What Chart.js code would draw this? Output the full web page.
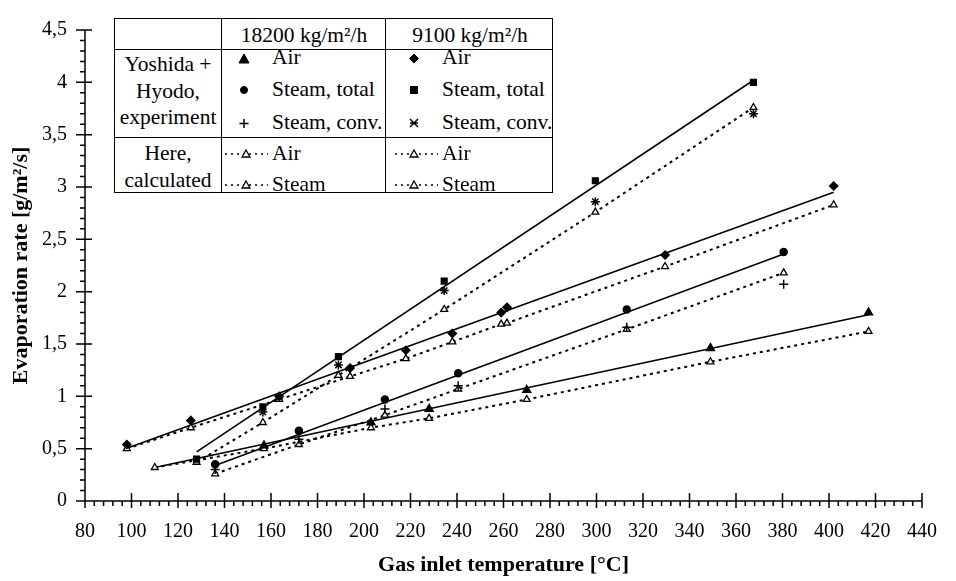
<!DOCTYPE html>
<html>
<head>
<meta charset="utf-8">
<script src="https://cdn.jsdelivr.net/npm/chart.js@4.4.1/dist/chart.umd.min.js"></script>
<style>
html, body { margin: 0; padding: 0; background: #fff; }
#wrap { position: relative; width: 956px; height: 581px; }
#legendBox { position: absolute; left: 114px; top: 18px; width: 439px; height: 175px; border: 1.5px solid #000; box-sizing: border-box; background: #fff;
  font-family: "Liberation Serif", "Times New Roman", serif; font-size: 21.5px; color: #000; }
.vl { position: absolute; top: 0; bottom: 0; width: 0; border-left: 1.5px solid #000; }
.hl { position: absolute; left: 0; right: 0; height: 0; border-top: 1.5px solid #000; }
.t { position: absolute; white-space: nowrap; line-height: 1; transform: translateY(-50%); }
.c { transform: translate(-50%, -50%); }
#legendBox svg { position: absolute; left: 0; top: 0; }
</style>
</head>
<body>
<div id="wrap">
  <canvas id="chart" width="956" height="581"></canvas>
  <div id="legendBox">
    <div class="vl" style="left:106px"></div>
    <div class="vl" style="left:270px"></div>
    <div class="hl" style="top:30px"></div>
    <div class="hl" style="top:118px"></div>

    <div class="t c" style="left:189px;top:17px">18200 kg/m²/h</div>
    <div class="t c" style="left:355px;top:17px">9100 kg/m²/h</div>

    <div class="t c" style="left:53px;top:46px">Yoshida +</div>
    <div class="t c" style="left:53px;top:73px">Hyodo,</div>
    <div class="t c" style="left:53px;top:99px">experiment</div>
    <div class="t c" style="left:53px;top:135px">Here,</div>
    <div class="t c" style="left:53px;top:162px">calculated</div>

    <div class="t" style="left:157px;top:39px">Air</div>
    <div class="t" style="left:157px;top:71px">Steam, total</div>
    <div class="t" style="left:157px;top:104px">Steam, conv.</div>
    <div class="t" style="left:157px;top:135px">Air</div>
    <div class="t" style="left:157px;top:166px">Steam</div>

    <div class="t" style="left:327px;top:39px">Air</div>
    <div class="t" style="left:327px;top:71px">Steam, total</div>
    <div class="t" style="left:327px;top:104px">Steam, conv.</div>
    <div class="t" style="left:327px;top:135px">Air</div>
    <div class="t" style="left:327px;top:166px">Steam</div>

    <svg width="439" height="175" viewBox="0 0 439 175">
      <g fill="#000" stroke="#000">
        <polygon points="129,35 124,44 134,44" />
        <circle cx="129" cy="71" r="3.5" />
        <path d="M129 100 V109 M124.5 104.5 H133.5" fill="none" stroke-width="1.5" />
        <polygon points="299,35 303.5,39.5 299,44 294.5,39.5" />
        <rect x="295.5" y="67.5" width="7" height="7" />
        <path d="M295 100 L303 108 M303 100 L295 108 M295 104 H303" fill="none" stroke-width="1.5" />
      </g>
      <g fill="none" stroke="#000" stroke-width="1.5" stroke-dasharray="2,4">
        <line x1="110" y1="135" x2="153" y2="135" />
        <line x1="110" y1="166" x2="153" y2="166" />
        <line x1="280" y1="135" x2="323" y2="135" />
        <line x1="280" y1="166" x2="323" y2="166" />
      </g>
      <g fill="#fff" stroke="#000" stroke-width="1.3">
        <polygon points="131,131 127,138 135,138" />
        <polygon points="131,162 127,169 135,169" />
        <polygon points="299,131 295,138 303,138" />
        <polygon points="299,162 295,169 303,169" />
      </g>
    </svg>
  </div>
</div>
<script>
// measured points, 18200 kg/m2/h
var air18X = [157, 203, 228, 270, 349, 417];
var air18Y = [0.53, 0.75, 0.88, 1.06, 1.46, 1.80];
var steam18X = [136, 172, 209, 240.5, 313, 380.5];
var steamTot18Y = [0.35, 0.67, 0.97, 1.22, 1.83, 2.38];
var steamConv18Y = [0.30, 0.59, 0.88, 1.10, 1.66, 2.07];

// measured points, 9100 kg/m2/h
var air91X = [98, 125.5, 163.5, 194, 218, 238, 259, 261.5, 329.5, 402];
var air91Y = [0.54, 0.77, 1.00, 1.27, 1.44, 1.60, 1.80, 1.85, 2.35, 3.01];
var steam91X = [128, 156.5, 189, 234.5, 299.5, 367.5];
var steamTot91Y = [0.40, 0.90, 1.38, 2.10, 3.06, 4.00];
var steamConv91X = [156.5, 189, 234.5, 299.5, 367.5];
var steamConv91Y = [0.85, 1.30, 2.01, 2.86, 3.70];

// calculated
var airCalc18X = [110, 157, 203, 228, 270, 349, 417];
var airCalc18Y = [0.32, 0.50, 0.70, 0.79, 0.97, 1.33, 1.62];
var steamCalc18Y = [0.26, 0.54, 0.82, 1.07, 1.64, 2.18];
var airCalc91Y = [0.50, 0.70, 0.97, 1.19, 1.36, 1.52, 1.69, 1.70, 2.24, 2.83];
var steamCalc91Y = [0.37, 0.75, 1.20, 1.83, 2.76, 3.76];

// solid trend lines (end points)
var fitAir91X = [98, 402], fitAir91Y = [0.505, 2.95];
var fitSteam91X = [128, 367.5], fitSteam91Y = [0.47, 4.02];
var fitAir18X = [110, 417], fitAir18Y = [0.32, 1.78];
var fitSteam18X = [136, 380.5], fitSteam18Y = [0.34, 2.36];

var xTicks = [80, 440, 20];
var yTicks = [0, 4.5, 0.5];

function pts(xs, ys) {
    return xs.map(function(v, i) { return {x: v, y: ys[i]}; });
}

function marker(xs, ys, style, r, fill) {
    return {
        data: pts(xs, ys), showLine: false,
        pointStyle: style, pointRadius: r, pointHoverRadius: r,
        pointBackgroundColor: fill || '#000', pointBorderColor: '#000', pointBorderWidth: 1.5
    };
}

function calcLine(xs, ys) {
    return {
        data: pts(xs, ys), showLine: true,
        borderColor: '#000', borderWidth: 2, borderDash: [3, 4],
        pointStyle: 'triangle', pointRadius: 4, pointHoverRadius: 4,
        pointBackgroundColor: '#fff', pointBorderColor: '#000', pointBorderWidth: 1.3
    };
}

function fitLine(xs, ys) {
    return {
        data: pts(xs, ys), showLine: true,
        borderColor: '#000', borderWidth: 1.6, pointRadius: 0
    };
}

var datasets = [
    marker(air18X, air18Y, 'triangle', 4.5),
    marker(steam18X, steamTot18Y, 'circle', 3.5),
    marker(steam18X, steamConv18Y, 'cross', 4.5),
    marker(air91X, air91Y, 'rectRot', 4),
    marker(steam91X, steamTot91Y, 'rect', 4),
    marker(steamConv91X, steamConv91Y, 'star', 4.5),
    calcLine(airCalc18X, airCalc18Y),
    calcLine(steam18X, steamCalc18Y),
    calcLine(air91X, airCalc91Y),
    calcLine(steam91X, steamCalc91Y),
    fitLine(fitAir91X, fitAir91Y),
    fitLine(fitSteam91X, fitSteam91Y),
    fitLine(fitAir18X, fitAir18Y),
    fitLine(fitSteam18X, fitSteam18Y)
];

// axis lines with major and minor ticks
var axisTicks = {
    id: 'axisTicks',
    afterDraw: function(chart) {
        var ctx = chart.ctx, a = chart.chartArea, x = chart.scales.x, y = chart.scales.y;
        ctx.save();
        ctx.strokeStyle = '#000';
        ctx.lineWidth = 1.5;
        ctx.beginPath();
        ctx.moveTo(a.left, a.top);
        ctx.lineTo(a.left, a.bottom);
        ctx.lineTo(a.right, a.bottom);
        for (var i = 0; i <= 45; i++) {
            var py = y.getPixelForValue(i / 10);
            if (i % 5 === 0) { ctx.moveTo(a.left - 9, py); ctx.lineTo(a.left + 7, py); }
            else { ctx.moveTo(a.left - 5, py); ctx.lineTo(a.left, py); }
        }
        for (var j = 0; j <= 90; j++) {
            var px = x.getPixelForValue(80 + j * 4);
            if (j % 5 === 0) { ctx.moveTo(px, a.bottom - 8); ctx.lineTo(px, a.bottom + 7); }
            else { ctx.moveTo(px, a.bottom); ctx.lineTo(px, a.bottom + 5); }
        }
        ctx.stroke();
        ctx.restore();
    }
};

var serif = '"Liberation Serif", "Times New Roman", serif';

new Chart(document.getElementById('chart'), {
    type: 'scatter',
    data: {datasets: datasets},
    options: {
        responsive: false,
        animation: false,
        layout: {padding: {top: 19, right: 19, left: 0, bottom: 0}},
        plugins: {legend: {display: false}, tooltip: {enabled: false}},
        scales: {
            x: {
                type: 'linear', min: xTicks[0], max: xTicks[1],
                ticks: {stepSize: xTicks[2], padding: 19, color: '#000', maxRotation: 0, autoSkip: false,
                    font: {family: serif, size: 20}},
                grid: {display: false, drawTicks: false},
                border: {display: false},
                title: {display: true, text: 'Gas inlet temperature [°C]', color: '#000',
                    font: {family: serif, size: 22, weight: 'bold'}, padding: {top: 0, bottom: 2}},
                afterFit: function(s) { s.height = 80; }
            },
            y: {
                type: 'linear', min: yTicks[0], max: yTicks[1],
                ticks: {stepSize: yTicks[2], padding: 18, color: '#000',
                    font: {family: serif, size: 20},
                    callback: function(v) { return String(v).replace('.', ','); }},
                grid: {display: false, drawTicks: false},
                border: {display: false},
                title: {display: true, text: 'Evaporation rate [g/m²/s]', color: '#000',
                    font: {family: serif, size: 22, weight: 'bold'}, padding: {top: 8, bottom: 0}},
                afterFit: function(s) { s.width = 85; }
            }
        }
    },
    plugins: [axisTicks]
});
</script>
</body>
</html>
